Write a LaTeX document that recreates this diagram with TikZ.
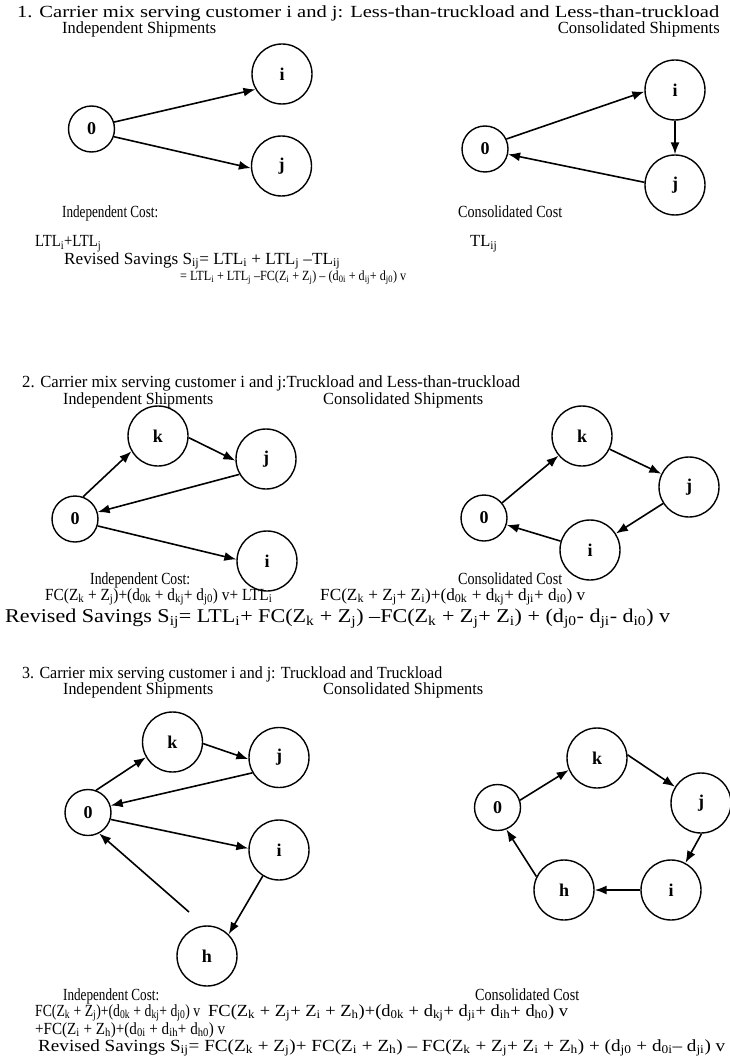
\documentclass[tikz,border=0pt]{standalone}
\usepackage{fontspec}
\setmainfont{Liberation Serif}
\usetikzlibrary{arrows.meta}
% subscript, widened text, and text set to a given width
\newcommand\lo[1]{\textsubscript{#1}}
\newcommand\wtxt[2][1.18]{\scalebox{#1}[1]{#2}}
\newcommand\fitw[2]{\resizebox{#1pt}{\height}{#2}}
\begin{document}
\begin{tikzpicture}[x=1pt,y=-1pt,
  txt/.style={anchor=base west, inner sep=0pt, font=\fontsize{17}{20}\selectfont},
  rtxt/.style={anchor=base east, inner sep=0pt, font=\fontsize{17}{20}\selectfont},
  smalltxt/.style={anchor=base west, inner sep=0pt, font=\fontsize{14}{16}\selectfont},
  bigtxt/.style={anchor=base west, inner sep=0pt, font=\fontsize{19.5}{22}\selectfont},
  depot/.style={circle, draw, line width=1.4pt, minimum size=46pt, inner sep=0pt,
    font=\fontsize{18}{20}\selectfont\bfseries},
  cust/.style={depot, minimum size=60pt},
  link/.style={-{Latex[length=12pt,width=9pt]}, line width=1.6pt}]
\useasboundingbox (0,0) rectangle (730,1059);

% ---------------- 1. LTL and LTL ----------------
\node[txt] (t1) at (17,18) {\wtxt[1.21]{1. Carrier mix serving customer i and j: Less-than-truckload and Less-than-truckload}};
\node[txt] (t1a) at (62,34) {\fitw{154}{Independent Shipments}};
\node[rtxt] (t1b) at (720,34) {\fitw{162}{Consolidated Shipments}};

\node[depot] (a0) at (91.5,129) {0};
\node[cust] (ai) at (282,74) {i};
\node[cust] (aj) at (281.5,166) {j};
\draw[link] (a0.17) -- (ai.210);
\draw[link] (a0.-19) -- (aj.184);

\node[depot] (b0) at (485,149) {0};
\node[cust] (bi) at (675,90) {i};
\node[cust] (bj) at (675,185) {j};
\draw[link] (b0.25) -- (bi.183);
\draw[link] (bi) -- (bj);
\draw[link] (bj.175) -- (b0.-13);

\node[txt] (c1a) at (62,218) {\fitw{96}{Independent Cost:}};
\node[txt] (c1b) at (458,218) {\fitw{104}{Consolidated Cost}};
\node[txt] (f1a) at (35,247) {\fitw{66}{LTL\lo{i}+LTL\lo{j}}};
\node[txt] (f1b) at (470,247) {\fitw{27}{TL\lo{ij}}};
\node[txt] (s1a) at (64,264) {\fitw{276}{Revised Savings S\lo{ij}= LTL\lo{i} + LTL\lo{j} –TL\lo{ij}}};
\node[smalltxt] (s1b) at (180,280) {\fitw{226}{= LTL\lo{i} + LTL\lo{j} –FC(Z\lo{i} + Z\lo{j}) – (d\lo{0i} + d\lo{ij}+ d\lo{j0}) v}};

% ---------------- 2. TL and LTL ----------------
\node[txt] (t2) at (22,387) {\fitw{498}{2. Carrier mix serving customer i and j:Truckload and Less-than-truckload}};
\node[txt] (t2a) at (63,404) {\fitw{150}{Independent Shipments}};
\node[txt] (t2b) at (323,404) {\fitw{160}{Consolidated Shipments}};

\node[cust] (ck) at (158,436) {k};
\node[cust] (cj) at (266,459) {j};
\node[depot] (c0) at (75,519) {0};
\node[cust] (ci) at (267,561) {i};
\draw[link] (c0.70) -- (ck.210);
\draw[link] (ck.-3) -- (cj.183);
\draw[link] (cj.210) -- (c0.17);
\draw[link] (c0.-17) -- (ci.177);

\node[depot] (d0) at (484,518) {0};
\node[cust] (dk) at (582,436) {k};
\node[cust] (dj) at (689,487) {j};
\node[cust] (di) at (590,550) {i};
\draw[link] (d0) -- (dk);
\draw[link] (dk) -- (dj);
\draw[link] (dj) -- (di);
\draw[link] (di) -- (d0);

\node[txt] (c2a) at (90,584) {\fitw{100}{Independent Cost:}};
\node[txt] (c2b) at (458,584) {\fitw{104}{Consolidated Cost}};
\node[txt] (f2a) at (45,600) {\fitw{227}{FC(Z\lo{k} + Z\lo{j})+(d\lo{0k} + d\lo{kj}+ d\lo{j0}) v+ LTL\lo{i}}};
\node[txt] (f2b) at (320,600) {\fitw{265}{FC(Z\lo{k} + Z\lo{j}+ Z\lo{i})+(d\lo{0k} + d\lo{kj}+ d\lo{ji}+ d\lo{i0}) v}};
\node[bigtxt] (s2) at (5,622) {\fitw{665}{Revised Savings S\lo{ij}= LTL\lo{i}+ FC(Z\lo{k} + Z\lo{j}) –FC(Z\lo{k} + Z\lo{j}+ Z\lo{i}) + (d\lo{j0}- d\lo{ji}- d\lo{i0}) v}};

% ---------------- 3. TL and TL ----------------
\node[txt] (t3) at (22,678) {\fitw{420}{3. Carrier mix serving customer i and j: Truckload and Truckload}};
\node[txt] (t3a) at (63,694) {\fitw{150}{Independent Shipments}};
\node[txt] (t3b) at (323,694) {\fitw{160}{Consolidated Shipments}};

\node[cust] (ek) at (172.5,742) {k};
\node[cust] (ej) at (279,757.5) {j};
\node[depot] (e0) at (88,812.5) {0};
\node[cust] (ei) at (279,850) {i};
\node[cust] (eh) at (207,956) {h};
\coordinate (ehs) at (189,912);
\draw[link] (e0.70) -- (ek.210);
\draw[link] (ek.-3) -- (ej.183);
\draw[link] (ej.210) -- (e0.17);
\draw[link] (e0.-17) -- (ei.177);
\draw[link] (ei.238) -- (eh.45);
\draw[link] (ehs) -- (e0.-62);

\node[depot] (f0) at (497.5,807.5) {0};
\node[cust] (fk) at (597,758) {k};
\node[cust] (fj) at (701,803) {j};
\node[cust] (fi) at (671,890) {i};
\node[cust] (fh) at (564,890) {h};
\draw[link] (f0.18) -- (fk.203);
\draw[link] (fk.6) -- (fj.148);
\draw[link] (fj.-89) -- (fi.62);
\draw[link] (fi.180) -- (fh.0);
\draw[link] (fh.154) -- (f0.-68);

\node[txt] (c3a) at (63,1000) {\fitw{96}{Independent Cost:}};
\node[txt] (c3b) at (475,1000) {\fitw{104}{Consolidated Cost}};
\node[txt] (f3a) at (35,1016) {\fitw{165}{FC(Z\lo{k} + Z\lo{j})+(d\lo{0k} + d\lo{kj}+ d\lo{j0}) v}};
\node[txt] (f3b) at (208,1016) {\fitw{360}{FC(Z\lo{k} + Z\lo{j}+ Z\lo{i} + Z\lo{h})+(d\lo{0k} + d\lo{kj}+ d\lo{ji}+ d\lo{ih}+ d\lo{h0}) v}};
\node[txt] (f3c) at (35,1034) {\fitw{190}{+FC(Z\lo{i} + Z\lo{h})+(d\lo{0i} + d\lo{ih}+ d\lo{h0}) v}};
\node[txt] (s3) at (38,1051) {\fitw{687}{Revised Savings S\lo{ij}= FC(Z\lo{k} + Z\lo{j})+ FC(Z\lo{i} + Z\lo{h}) – FC(Z\lo{k} + Z\lo{j}+ Z\lo{i} + Z\lo{h}) + (d\lo{j0} + d\lo{0i}– d\lo{ji}) v}};
\end{tikzpicture}
\end{document}
